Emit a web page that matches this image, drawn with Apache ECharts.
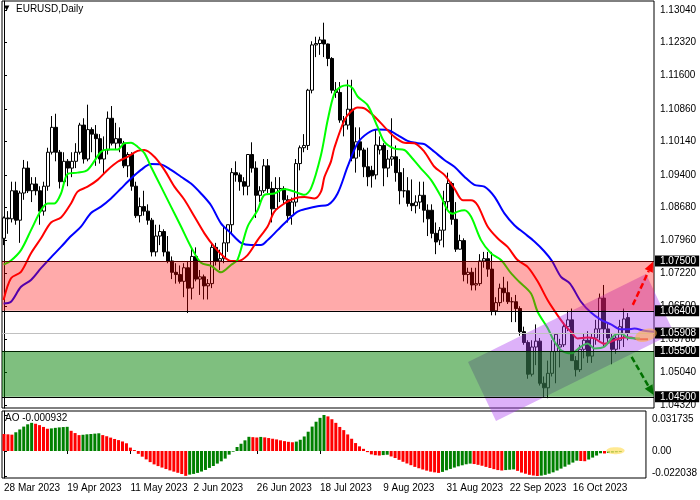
<!DOCTYPE html>
<html><head><meta charset="utf-8">
<script src="https://cdn.jsdelivr.net/npm/echarts@6/dist/echarts.min.js"></script>
<style>html,body{margin:0;padding:0;background:#fff}#c{width:700px;height:500px}</style>
</head><body><div id="c"></div>
<script>
// ---------- categories ----------
const barCount = 157, slotCount = 163;
const MONTHS = ['Jan','Feb','Mar','Apr','May','Jun','Jul','Aug','Sep','Oct','Nov','Dec'];
const dates = [];
(function(){ let t = Date.UTC(2023,2,28);
  while (dates.length < slotCount) { const d = new Date(t), w = d.getUTCDay();
    if (w !== 0 && w !== 6) dates.push(d.getUTCDate()+' '+MONTHS[d.getUTCMonth()]+' '+d.getUTCFullYear());
    t += 86400000; } })();

// ---------- OHLC ----------
const open = [
1.0800,1.0845,1.0843,1.0905,1.0840,1.0900,1.0955,1.0905,1.0920,1.0905,
1.0860,1.0915,1.0990,1.1045,1.0990,1.0925,1.0970,1.0955,1.0970,1.0990,
1.1050,1.0975,1.1040,1.1030,1.1020,1.0975,1.0995,1.1065,1.1010,1.1020,
1.1010,1.0960,1.0985,1.0915,1.0850,1.0870,1.0860,1.0840,1.0770,1.0805,
1.0815,1.0770,1.0750,1.0725,1.0720,1.0705,1.0735,1.0690,1.0760,1.0710,
1.0715,1.0695,1.0700,1.0780,1.0750,1.0755,1.0790,1.0830,1.0945,1.0940,
1.0925,1.0915,1.0985,1.0955,1.0895,1.0905,1.0960,1.0910,1.0865,1.0910,
1.0910,1.0885,1.0850,1.0880,1.0965,1.1000,1.1005,1.1127,1.1227,1.1230,
1.1238,1.1229,1.1197,1.1127,1.1122,1.1050,1.1050,1.1085,1.0977,1.1013,
1.0995,1.0958,1.0950,1.0940,1.0995,1.1005,1.0955,1.0975,1.0980,1.0945,
1.0905,1.0905,1.0877,1.0872,1.0880,1.0895,1.0862,1.0862,1.0811,1.0796,
1.0818,1.0881,1.0921,1.0842,1.0776,1.0795,1.0720,1.0725,1.0697,1.0700,
1.0750,1.0755,1.0732,1.0640,1.0658,1.0690,1.0680,1.0660,1.0660,1.0645,
1.0594,1.0570,1.0500,1.0560,1.0573,1.0480,1.0470,1.0502,1.0550,1.0560,
1.0565,1.0605,1.0620,1.0530,1.0510,1.0555,1.0575,1.0540,1.0580,1.0600,
1.0668,1.0600,1.0580,1.0555,1.0575,1.0590,1.0625];
const close = [
1.0845,1.0843,1.0905,1.0840,1.0900,1.0955,1.0905,1.0920,1.0905,1.0860,
1.0915,1.0990,1.1045,1.0990,1.0925,1.0970,1.0955,1.0970,1.0990,1.1050,
1.0975,1.1040,1.1030,1.1020,1.0975,1.0995,1.1065,1.1010,1.1020,1.1010,
1.0960,1.0985,1.0915,1.0850,1.0870,1.0860,1.0840,1.0770,1.0805,1.0815,
1.0770,1.0750,1.0725,1.0720,1.0705,1.0735,1.0690,1.0760,1.0710,1.0715,
1.0695,1.0700,1.0780,1.0750,1.0755,1.0790,1.0830,1.0945,1.0940,1.0925,
1.0915,1.0985,1.0955,1.0895,1.0905,1.0960,1.0910,1.0865,1.0910,1.0910,
1.0885,1.0850,1.0880,1.0965,1.1000,1.1005,1.1127,1.1227,1.1230,1.1238,
1.1229,1.1197,1.1127,1.1122,1.1061,1.1060,1.1085,1.0977,1.1013,1.0995,
1.0958,1.0936,1.0938,1.1006,1.1005,1.0955,1.0975,1.0980,1.0945,1.0905,
1.0905,1.0877,1.0872,1.0880,1.0895,1.0862,1.0843,1.0811,1.0792,1.0818,
1.0881,1.0921,1.0842,1.0776,1.0795,1.0720,1.0725,1.0697,1.0700,1.0750,
1.0755,1.0732,1.0640,1.0658,1.0690,1.0680,1.0660,1.0660,1.0645,1.0594,
1.0570,1.0500,1.0560,1.0573,1.0480,1.0470,1.0502,1.0550,1.0588,1.0565,
1.0605,1.0620,1.0530,1.0510,1.0555,1.0575,1.0540,1.0580,1.0600,1.0668,
1.0600,1.0580,1.0555,1.0580,1.0605,1.0622,1.0591];
const high = [
1.0848,1.0860,1.0925,1.0925,1.0905,1.0973,1.0970,1.0935,1.0935,1.0915,
1.0925,1.1000,1.1070,1.1075,1.0995,1.0990,1.0975,1.0990,1.1010,1.1055,
1.1065,1.1095,1.1045,1.1050,1.1030,1.1025,1.1080,1.1092,1.1055,1.1045,
1.1015,1.0990,1.0990,1.0925,1.0890,1.0905,1.0875,1.0845,1.0830,1.0830,
1.0820,1.0805,1.0760,1.0745,1.0740,1.0745,1.0750,1.0780,1.0780,1.0730,
1.0720,1.0710,1.0790,1.0790,1.0775,1.0825,1.0830,1.0955,1.0970,1.0945,
1.0935,1.0985,1.1012,1.0970,1.0915,1.0975,1.0975,1.0925,1.0935,1.0935,
1.0915,1.0895,1.0890,1.0975,1.1005,1.1030,1.1130,1.1235,1.1245,1.1245,
1.1276,1.1230,1.1200,1.1145,1.1145,1.1070,1.1150,1.1150,1.1045,1.1045,
1.1000,1.1000,1.0960,1.1040,1.1025,1.1010,1.0995,1.1065,1.1005,1.0975,
1.0955,1.0935,1.0930,1.0895,1.0925,1.0925,1.0875,1.0875,1.0835,1.0825,
1.0905,1.0945,1.0925,1.0880,1.0808,1.0800,1.0735,1.0735,1.0735,1.0765,
1.0770,1.0770,1.0770,1.0670,1.0700,1.0715,1.0705,1.0670,1.0675,1.0650,
1.0605,1.0575,1.0575,1.0610,1.0580,1.0495,1.0530,1.0575,1.0590,1.0578,
1.0615,1.0640,1.0645,1.0540,1.0565,1.0590,1.0595,1.0590,1.0620,1.0678,
1.0697,1.0612,1.0590,1.0590,1.0620,1.0645,1.0635];
const low = [
1.0785,1.0810,1.0835,1.0830,1.0790,1.0885,1.0900,1.0880,1.0895,1.0830,
1.0850,1.0905,1.0985,1.0970,1.0910,1.0915,1.0915,1.0935,1.0955,1.0985,
1.0965,1.0970,1.0990,1.0960,1.0965,1.0940,1.0985,1.1005,1.0995,1.0990,
1.0955,1.0935,1.0905,1.0845,1.0835,1.0850,1.0830,1.0760,1.0760,1.0785,
1.0760,1.0745,1.0710,1.0700,1.0700,1.0670,1.0635,1.0665,1.0705,1.0675,
1.0665,1.0665,1.0690,1.0740,1.0730,1.0745,1.0770,1.0810,1.0925,1.0905,
1.0895,1.0895,1.0945,1.0845,1.0880,1.0900,1.0900,1.0835,1.0860,1.0880,
1.0875,1.0835,1.0830,1.0870,1.0950,1.0990,1.0995,1.1120,1.1200,1.1205,
1.1200,1.1180,1.1120,1.1110,1.1055,1.1025,1.1040,1.0970,1.0945,1.0980,
1.0935,1.0915,1.0912,1.0930,1.0985,1.0915,1.0935,1.0960,1.0925,1.0875,
1.0890,1.0870,1.0860,1.0855,1.0865,1.0835,1.0805,1.0800,1.0765,1.0785,
1.0780,1.0865,1.0830,1.0770,1.0775,1.0705,1.0700,1.0685,1.0685,1.0695,
1.0735,1.0715,1.0630,1.0630,1.0650,1.0660,1.0655,1.0615,1.0615,1.0585,
1.0565,1.0490,1.0495,1.0520,1.0475,1.0448,1.0447,1.0495,1.0480,1.0515,
1.0560,1.0595,1.0530,1.0495,1.0505,1.0535,1.0525,1.0525,1.0565,1.0575,
1.0560,1.0570,1.0522,1.0545,1.0555,1.0560,1.0575];

// ---------- Alligator lines [bar position, price] ----------
const jawLine = [[-0.1,1.0656],[1.75,1.0660],[4.25,1.0693],[6.75,1.0708],[9.25,1.0734],[11.75,1.0758],[14.25,1.0781],[16.75,1.0805],[19.25,1.0826],[21.75,1.0856],[24.25,1.0870],[26.75,1.0888],[29.25,1.0910],[31.75,1.0932],[34.25,1.0951],[36.75,1.0964],[39.25,1.0963],[41.75,1.0951],[44.25,1.0936],[46.75,1.0921],[49.25,1.0899],[51.75,1.0873],[54.25,1.0833],[56.75,1.0811],[59.25,1.0790],[61.75,1.0785],[64.25,1.0785],[65.9,1.0796],[68.4,1.0818],[70.9,1.0840],[73.4,1.0859],[75.9,1.0866],[78.4,1.0871],[81.0,1.0874],[83.4,1.0899],[85.9,1.0958],[88.4,1.1010],[90.9,1.1032],[93.4,1.1040],[95.9,1.1039],[98.4,1.1028],[100.9,1.1015],[103.4,1.1010],[105.1,1.1008],[107.6,1.0991],[110.1,1.0973],[112.6,1.0958],[115.1,1.0936],[117.6,1.0918],[120.1,1.0914],[122.6,1.0892],[125.1,1.0855],[127.6,1.0829],[130.1,1.0811],[132.6,1.0793],[135.0,1.0772],[137.0,1.0750],[139.25,1.0715],[141.5,1.0700],[144.25,1.0660],[146.75,1.0636],[149.25,1.0620],[151.75,1.0610],[154.25,1.0599],[155.9,1.0599],[157.6,1.0601],[160.1,1.0596],[162.5,1.0594]];
const teethLine = [[-0.1,1.0664],[1.75,1.0712],[4.25,1.0726],[6.75,1.0767],[9.25,1.0800],[11.75,1.0835],[14.25,1.0846],[16.75,1.0877],[18.4,1.0903],[20.9,1.0914],[23.4,1.0929],[25.9,1.0951],[28.4,1.0969],[30.9,1.0980],[33.4,1.0993],[35.1,1.0995],[37.6,1.0980],[40.1,1.0951],[42.6,1.0914],[45.1,1.0885],[47.6,1.0848],[50.1,1.0811],[52.6,1.0781],[55.1,1.0758],[56.75,1.0750],[58.4,1.0750],[60.9,1.0763],[63.4,1.0796],[65.9,1.0826],[67.6,1.0859],[70.1,1.0877],[72.6,1.0888],[75.1,1.0891],[77.6,1.0888],[79.25,1.0903],[80.1,1.0935],[81.75,1.0970],[82.6,1.1000],[85.1,1.1061],[86.75,1.1080],[88.4,1.1089],[90.1,1.1087],[92.6,1.1069],[95.1,1.1046],[97.6,1.1024],[100.1,1.1011],[102.6,1.1010],[105.1,1.0991],[107.6,1.0958],[110.1,1.0940],[112.6,1.0910],[114.7,1.0884],[116.75,1.0884],[118.4,1.0873],[120.9,1.0826],[123.4,1.0800],[125.9,1.0781],[128.4,1.0752],[130.9,1.0737],[133.4,1.0705],[136.0,1.0662],[138.4,1.0630],[140.5,1.0605],[141.75,1.0594],[143.4,1.0579],[145.9,1.0581],[147.6,1.0579],[150.1,1.0567],[152.6,1.0575],[155.1,1.0581],[156.75,1.0581],[158.4,1.0577],[161,1.0577]];
const lipsLine = [[-0.1,1.0742],[1.75,1.0751],[4.25,1.0774],[6.75,1.0818],[9.25,1.0862],[10.9,1.0877],[12.6,1.0877],[14.25,1.0899],[15.9,1.0942],[18.4,1.0945],[20.9,1.0951],[24.25,1.0991],[25.9,1.0996],[28.4,1.0996],[30.1,1.1010],[31.75,1.1011],[33.4,1.1002],[35.1,1.0988],[36.75,1.0958],[39.25,1.0914],[41.75,1.0870],[44.25,1.0826],[46.75,1.0781],[49.25,1.0746],[51.75,1.0739],[54.25,1.0725],[56.75,1.0741],[58.4,1.0753],[60.9,1.0826],[63.4,1.0862],[65.1,1.0896],[67.6,1.0899],[70.1,1.0909],[72.6,1.0903],[75.1,1.0896],[76.75,1.0910],[79.25,1.0984],[80.9,1.1060],[82.6,1.1120],[84.25,1.1135],[85.9,1.1138],[87.2,1.1131],[88.4,1.1113],[90.9,1.1094],[93.4,1.1046],[95.1,1.1013],[97.6,1.0998],[100.1,1.0995],[101.75,1.0980],[104.25,1.0954],[106.75,1.0929],[109.25,1.0892],[110.9,1.0862],[112.2,1.0854],[113.4,1.0859],[115.1,1.0862],[116.75,1.0848],[119.25,1.0796],[121.75,1.0767],[124.25,1.0752],[126.75,1.0723],[128.8,1.0704],[131.75,1.0678],[133.4,1.0638],[135.9,1.0602],[137.6,1.0572],[139.25,1.0553],[141.75,1.0546],[144.25,1.0561],[145.9,1.0568],[147.6,1.0557],[150.1,1.0561],[152.6,1.0586],[154.25,1.0590],[155.9,1.0581],[159,1.0579]];

// ---------- Awesome Oscillator ----------
const aoValues = [
0.0150,0.0147,0.0144,0.0165,0.0190,0.0215,0.0235,0.0248,0.0240,0.0228,
0.0212,0.0196,0.0199,0.0204,0.0208,0.0211,0.0213,0.0178,0.0158,0.0140,
0.0143,0.0147,0.0150,0.0153,0.0156,0.0140,0.0130,0.0118,0.0106,0.0096,
0.0084,0.0068,0.0030,0.0009,-0.0025,-0.0050,-0.0074,-0.0098,-0.0118,-0.0133,
-0.0146,-0.0159,-0.0171,-0.0182,-0.0192,-0.0203,-0.0219,-0.0208,-0.0202,-0.0193,
-0.0181,-0.0167,-0.0149,-0.0132,-0.0111,-0.0091,-0.0067,-0.0032,-0.0006,0.0035,
0.0064,0.0094,0.0125,0.0122,0.0119,0.0124,0.0120,0.0114,0.0108,0.0102,
0.0094,0.0087,0.0081,0.0077,0.0083,0.0099,0.0128,0.0170,0.0215,0.0258,
0.0292,0.031735,0.0305,0.0280,0.0248,0.0212,0.0184,0.0146,0.0108,0.0070,
0.0041,0.0019,-0.0010,-0.0030,-0.0037,-0.0040,-0.0036,-0.0033,-0.0048,-0.0062,
-0.0078,-0.0095,-0.0110,-0.0125,-0.0140,-0.0152,-0.0163,-0.0173,-0.0182,-0.0188,
-0.0193,-0.0184,-0.0170,-0.0158,-0.0146,-0.0135,-0.0126,-0.0117,-0.0111,-0.0115,
-0.0122,-0.0130,-0.0140,-0.0150,-0.0160,-0.0168,-0.0172,-0.0168,-0.0165,-0.0162,
-0.0175,-0.0190,-0.0200,-0.0210,-0.0216,-0.022038,-0.0217,-0.0210,-0.0200,-0.0188,
-0.0172,-0.0155,-0.0138,-0.0120,-0.0102,-0.0085,-0.0088,-0.0090,-0.0075,-0.0058,
-0.0040,-0.0020,-0.0022,-0.0018,-0.0015,-0.0012,-0.000932];

// ---------- levels, ticks, annotations ----------
const priceTicks = [1.13040,1.12320,1.11600,1.10860,1.10140,1.09400,1.08680,1.07960,1.07220,1.06500,1.05780,1.05040,1.04320];
const aoTicks = [0.031735, 0, -0.022038];
const levelPrices = [1.07500, 1.06400, 1.05500, 1.04500];
const lastPrice = 1.05908;
const redZone = [1.064, 1.075];
const greenZone = [1.045, 1.055];
const channelCorners = [[116,1.05268],[160.5,1.07211],[167.5,1.05908],[123,1.03965]];
const upArrow = {from:[157.2,1.0653], to:[162.25,1.0748]};
const downArrow = {from:[156.9,1.0538], to:[162.4,1.0454]};
const priceEllipse = {center:[160.5,1.0586], rx:2.8, ry:0.00135, angle:-0.3};
const aoEllipse = {center:[154.8,0.0003], rx:2.3, ry:0.0031, angle:0};

const FONT = 'Liberation Sans, Arial, sans-serif';
const XMIN = -0.5, XMAX = slotCount - 0.5;

function ellipseRender(e, fill){
  return function(params, api){
    const c = api.coord(e.center);
    const rx = Math.abs(api.coord([e.center[0]+e.rx, e.center[1]])[0]-c[0]);
    const ry = Math.abs(api.coord([e.center[0], e.center[1]+e.ry])[1]-c[1]);
    const pts = [];
    for (let k=0;k<48;k++){ const t=k/48*Math.PI*2, x=rx*Math.cos(t), y=ry*Math.sin(t);
      pts.push([c[0]+x*Math.cos(e.angle)-y*Math.sin(e.angle), c[1]+x*Math.sin(e.angle)+y*Math.cos(e.angle)]); }
    return {type:'polygon', shape:{points:pts}, style:{fill:fill}};
  };
}
function arrowRender(a, color){
  return function(params, api){
    const p = api.coord(a.from), q = api.coord(a.to);
    const dx=q[0]-p[0], dy=q[1]-p[1], L=Math.hypot(dx,dy), ux=dx/L, uy=dy/L, head=10, half=4.5;
    const b=[q[0]-ux*head, q[1]-uy*head];
    return {type:'group', children:[
      {type:'line', shape:{x1:p[0],y1:p[1],x2:b[0],y2:b[1]}, style:{stroke:color,lineWidth:2.5,lineDash:[6,3]}},
      {type:'polygon', shape:{points:[q,[b[0]-uy*half,b[1]+ux*half],[b[0]+uy*half,b[1]-ux*half]]}, style:{fill:color}}
    ]};
  };
}
function zoneRender(z, fill){
  return function(params, api){
    const a = api.coord([XMIN, z[1]]), b = api.coord([XMAX, z[0]]);
    return {type:'rect', shape:{x:a[0], y:a[1], width:b[0]-a[0], height:b[1]-a[1]}, style:{fill:fill}};
  };
}
const showLabel = (idx) => idx % 16 === 0 && idx < barCount;

const chart = echarts.init(document.getElementById('c'), null, {width:700, height:500});
const markData = levelPrices.map(v => ({yAxis:v, lineStyle:{color:'#000', width:1, type:'solid'}}))
  .concat([{yAxis:lastPrice, lineStyle:{color:'#C0C0C0', width:1, type:'solid'}}]);

chart.setOption({
  animation:false,
  backgroundColor:'#fff',
  textStyle:{fontFamily:FONT},
  grid:[
    {left:2, top:1, width:652, height:407, show:true, borderColor:'#000', borderWidth:1},
    {left:2, top:411, width:652, height:67, show:true, borderColor:'#000', borderWidth:1}
  ],
  xAxis:[
    {type:'category', gridIndex:0, data:dates, boundaryGap:true, axisLine:{show:false}, axisTick:{show:false}, axisLabel:{show:false}},
    {type:'value', gridIndex:0, min:XMIN, max:XMAX, show:false},
    {type:'category', gridIndex:1, data:dates, boundaryGap:true, axisLine:{show:false},
      axisTick:{show:true, alignWithLabel:true, interval:showLabel, length:3, lineStyle:{color:'#000'}},
      axisLabel:{interval:showLabel, align:'left', fontSize:10, color:'#000', margin:5, fontFamily:FONT}},
    {type:'value', gridIndex:1, min:XMIN, max:XMAX, show:false}
  ],
  yAxis:[
    {type:'value', gridIndex:0, position:'right', min:1.04254, max:1.13239, splitLine:{show:false},
      axisLine:{show:true, lineStyle:{color:'#000'}},
      axisTick:{show:true, customValues:priceTicks, length:3, lineStyle:{color:'#000'}},
      axisLabel:{customValues:priceTicks, formatter:v=>v.toFixed(5), fontSize:10, color:'#000', margin:6, fontFamily:FONT}},
    {type:'value', gridIndex:1, position:'right', min:-0.02379, max:0.03524, splitLine:{show:false},
      axisLine:{show:true, lineStyle:{color:'#000'}},
      axisTick:{show:true, customValues:aoTicks, length:3, lineStyle:{color:'#000'}},
      axisLabel:{customValues:aoTicks, fontSize:10, color:'#000', margin:6, fontFamily:FONT,
        formatter:v=> v===0 ? '0.00' : (v>0 ? '{top|'+v.toFixed(6)+'}' : '{bot|'+v.toFixed(6)+'}'),
        rich:{top:{padding:[9,0,0,0], fontSize:10, fontFamily:FONT}, bot:{padding:[0,0,6,0], fontSize:10, fontFamily:FONT}}}}
  ],
  graphic:[
    {type:'text', left:4, top:5, style:{text:'▼', fontSize:7, fill:'#000', fontFamily:'DejaVu Sans'}},
    {type:'text', left:16, top:4, style:{text:'EURUSD,Daily', fontSize:10, fill:'#000', fontFamily:FONT}},
    {type:'text', left:5, top:413, style:{text:'AO -0.000932', fontSize:10, fill:'#000', fontFamily:FONT}}
  ],
  series:[
    {type:'line', xAxisIndex:1, yAxisIndex:0, z:1, data:[[0,lastPrice]], showSymbol:false, lineStyle:{opacity:0}, silent:true,
      markLine:{silent:true, precision:5, symbol:['none','none'], animation:false, data:markData,
        label:{show:true, position:'end', distance:1, formatter:p=>Number(p.value).toFixed(5), backgroundColor:'#000', color:'#fff',
          padding:[1,3,0,5], fontSize:10, fontFamily:FONT}}},
    {type:'candlestick', xAxisIndex:0, yAxisIndex:0, z:2, barWidth:3,
      data:open.map((o,i)=>[o, close[i], low[i], high[i]]),
      itemStyle:{color:'#fff', color0:'#000', borderColor:'#000', borderColor0:'#000', borderWidth:1}},
    {type:'line', xAxisIndex:1, yAxisIndex:0, z:3, data:jawLine, showSymbol:false, smooth:0.3, lineStyle:{color:'#0000FF', width:2}},
    {type:'line', xAxisIndex:1, yAxisIndex:0, z:3, data:teethLine, showSymbol:false, smooth:0.3, lineStyle:{color:'#FF0000', width:2}},
    {type:'line', xAxisIndex:1, yAxisIndex:0, z:3, data:lipsLine, showSymbol:false, smooth:0.3, lineStyle:{color:'#00FF00', width:2}},
    {type:'custom', xAxisIndex:1, yAxisIndex:0, z:4, clip:false, data:[0], silent:true,
      renderItem:(params, api)=>({type:'polygon', shape:{points:channelCorners.map(c=>api.coord(c))}, style:{fill:'rgba(170,60,240,0.4)'}})},
    {type:'custom', xAxisIndex:1, yAxisIndex:0, z:5, data:[0], silent:true, renderItem:zoneRender(redZone,'rgba(255,0,0,0.333)')},
    {type:'custom', xAxisIndex:1, yAxisIndex:0, z:5, data:[0], silent:true, renderItem:zoneRender(greenZone,'rgba(0,128,0,0.5)')},
    {type:'custom', xAxisIndex:1, yAxisIndex:0, z:6, data:[0], silent:true, renderItem:ellipseRender(priceEllipse,'rgba(255,175,80,0.6)')},
    {type:'custom', xAxisIndex:1, yAxisIndex:0, z:6, clip:false, data:[0], silent:true, renderItem:arrowRender(upArrow,'#FF0000')},
    {type:'custom', xAxisIndex:1, yAxisIndex:0, z:6, clip:false, data:[0], silent:true, renderItem:arrowRender(downArrow,'#007000')},
    {type:'bar', xAxisIndex:2, yAxisIndex:1, z:2, barWidth:3,
      data:aoValues.map((v,i)=>({value:v, itemStyle:{color:(i>0 && v>aoValues[i-1])?'#008000':'#FF0000'}}))},
    {type:'custom', xAxisIndex:3, yAxisIndex:1, z:6, data:[0], silent:true, renderItem:ellipseRender(aoEllipse,'rgba(255,225,110,0.75)')}
  ]
});
</script></body></html>
